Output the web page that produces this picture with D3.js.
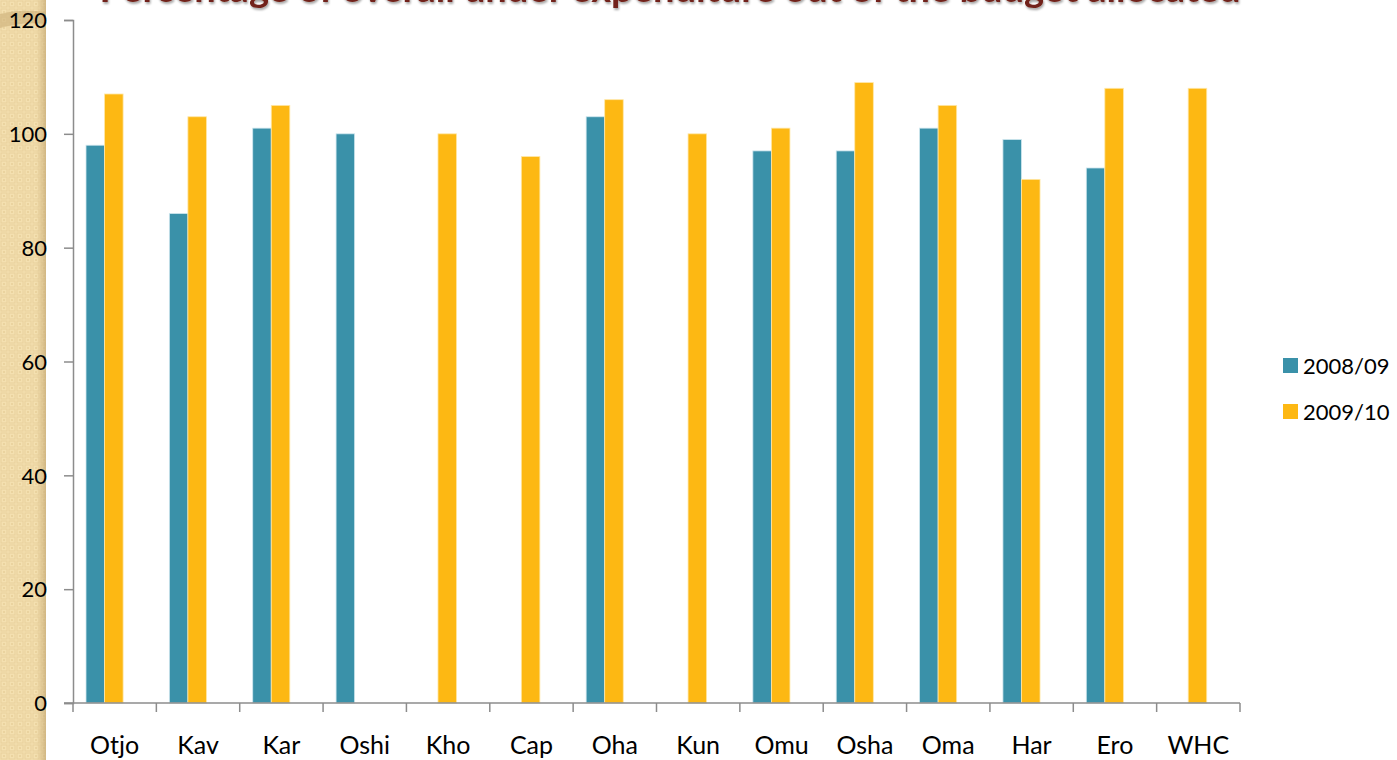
<!DOCTYPE html>
<html>
<head>
<meta charset="utf-8">
<script src="https://cdn.jsdelivr.net/npm/d3@7"></script>
<style>
  html, body { margin: 0; padding: 0; background: #fff; }
  svg { display: block; }
</style>
</head>
<body>
<svg id="chart" width="1397" height="760"></svg>
<script>
// data
const districts = ["Otjo", "Kav", "Kar", "Oshi", "Kho", "Cap", "Oha", "Kun", "Omu", "Osha", "Oma", "Har", "Ero", "WHC"]
const years = ["2008/09", "2009/10"]
const values0809 = [98, 86, 101, 100, null, null, 103, null, 97, 97, 101, 99, 94, null]
const values0910 = [107, 103, 105, null, 100, 96, 106, 100, 101, 109, 105, 92, 108, 108]
const yTicks = [0, 20, 40, 60, 80, 100, 120]
const colours = ["#3a91a9", "#fdb813"]
const title = "Percentage of overall under expenditure out of the budget allocated"

const svg = d3.select("#chart")
const width = 1397, height = 760
const margin = { top: 20, left: 73, right: 157, bottom: 57 }
const font = "'Gill Sans', Lato, 'Open Sans', sans-serif"

const defs = svg.append("defs")

// beige checker pattern for the slide border on the left
const pat = defs.append("pattern")
    .attr("id", "checks")
    .attr("width", 8).attr("height", 8)
    .attr("patternUnits", "userSpaceOnUse")
pat.append("rect").attr("width", 8).attr("height", 8).attr("fill", "#f4e0b0")
pat.append("rect").attr("x", 1).attr("y", 1).attr("width", 6).attr("height", 6)
    .attr("fill", "none").attr("stroke", "#e9d19c").attr("stroke-width", 1)
pat.append("rect").attr("x", 3).attr("y", 3).attr("width", 2).attr("height", 2).attr("fill", "#ead39f")

const edge = defs.append("linearGradient").attr("id", "edge")
edge.append("stop").attr("offset", "0%").attr("stop-color", "#d9c08c").attr("stop-opacity", 0)
edge.append("stop").attr("offset", "100%").attr("stop-color", "#c9ad78").attr("stop-opacity", 0.8)

const shadow = defs.append("filter").attr("id", "shadow")
    .attr("x", "-5%").attr("y", "-50%").attr("width", "110%").attr("height", "200%")
shadow.append("feDropShadow").attr("dx", 1).attr("dy", 2).attr("stdDeviation", 1.2)
    .attr("flood-color", "#000").attr("flood-opacity", 0.35)

svg.append("rect").attr("x", 0).attr("y", 0).attr("width", 46).attr("height", height).attr("fill", "url(#checks)")
svg.append("rect").attr("x", 36).attr("y", 0).attr("width", 10).attr("height", height).attr("fill", "url(#edge)")
svg.append("path")
    .attr("d", "M0,14 C15,10 30,10 46,12 L46,24 C30,22 15,24 0,28 Z")
    .attr("fill", "#cdb07a").attr("opacity", 0.6)

// title, cut off by the top edge as in the slide
svg.append("text")
    .attr("x", 670).attr("y", 2)
    .attr("text-anchor", "middle")
    .attr("font-family", font)
    .attr("font-weight", "bold")
    .attr("font-size", 38)
    .attr("fill", "#72241a")
    .attr("filter", "url(#shadow)")
    .text(title)

const x = d3.scaleBand()
    .domain(districts)
    .range([margin.left, width - margin.right])

const xSub = d3.scaleBand()
    .domain(years)
    .range([0, x.bandwidth() * 0.445])

const y = d3.scaleLinear()
    .domain([0, 120])
    .range([height - margin.bottom, margin.top])

const rows = districts.map((d, i) => ({ district: d, vals: [values0809[i], values0910[i]] }))

const groups = svg.append("g").selectAll("g")
    .data(rows)
    .join("g")
    .attr("transform", d => "translate(" + (x(d.district) + x.bandwidth() * 0.156) + ",0)")

groups.selectAll("rect")
    .data(d => d.vals.map((v, j) => ({ year: years[j], v, j })).filter(e => e.v != null))
    .join("rect")
    .attr("x", e => xSub(e.year))
    .attr("y", e => y(e.v))
    .attr("width", xSub.bandwidth())
    .attr("height", e => y(0) - y(e.v))
    .attr("fill", e => colours[e.j])
    .attr("stroke", e => e.j == 0 ? "#cfe6ee" : "#ffe7a6")
    .attr("stroke-width", 0.8)

// y axis
const yAxis = svg.append("g")
    .attr("transform", "translate(" + margin.left + ",0)")
    .call(d3.axisLeft(y).tickValues(yTicks).tickSize(9).tickPadding(17))
yAxis.selectAll("text")
    .attr("font-family", font)
    .attr("font-size", 22)
    .attr("fill", "#000")
    .attr("dy", "0.35em")
yAxis.select(".domain").attr("stroke", "#8c8c8c").attr("stroke-width", 1.5)
yAxis.selectAll(".tick line").attr("stroke", "#8c8c8c").attr("stroke-width", 1.5)

// x axis with ticks on the band edges
const xAxis = svg.append("g")
    .attr("transform", "translate(0," + y(0) + ")")
xAxis.append("line")
    .attr("x1", margin.left - 9).attr("x2", width - margin.right)
    .attr("stroke", "#8c8c8c").attr("stroke-width", 1.5)
xAxis.selectAll("line.tick")
    .data(districts.concat(["end"]))
    .join("line")
    .attr("class", "tick")
    .attr("x1", (d, i) => i < districts.length ? x(d) : width - margin.right)
    .attr("x2", (d, i) => i < districts.length ? x(d) : width - margin.right)
    .attr("y1", 0).attr("y2", 9)
    .attr("stroke", "#8c8c8c").attr("stroke-width", 1.5)
xAxis.selectAll("text")
    .data(districts)
    .join("text")
    .attr("x", d => x(d) + x.bandwidth() / 2)
    .attr("y", 51)
    .attr("text-anchor", "middle")
    .attr("font-family", font)
    .attr("font-size", 25)
    .attr("fill", "#000")
    .text(d => d)

// legend
const legend = svg.append("g")
    .attr("transform", "translate(1283,358)")
const item = legend.selectAll("g")
    .data(years)
    .join("g")
    .attr("transform", (d, i) => "translate(0," + i * 46 + ")")
item.append("rect")
    .attr("width", 15).attr("height", 15)
    .attr("fill", (d, i) => colours[i])
item.append("text")
    .attr("x", 20).attr("y", 8)
    .attr("dy", "0.35em")
    .attr("font-family", font)
    .attr("font-size", 22)
    .attr("fill", "#000")
    .text(d => d)
</script>
</body>
</html>
